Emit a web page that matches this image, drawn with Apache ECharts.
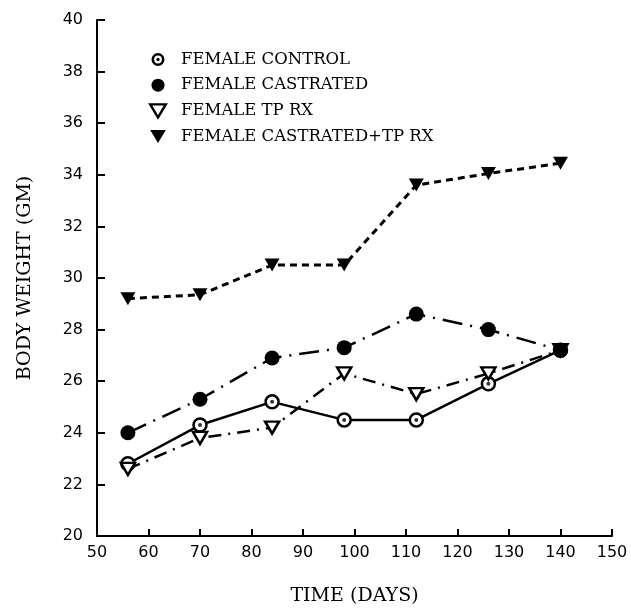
<!DOCTYPE html>
<html>
<head>
<meta charset="utf-8">
<script src="https://cdn.jsdelivr.net/npm/echarts@6/dist/echarts.min.js"></script>
<style>
html,body{margin:0;padding:0;background:#fff;}
#chart{width:631px;height:616px;}
</style>
</head>
<body>
<div id="chart"></div>
<script>
// body weight vs time, female groups
var days=[56,70,84,98,112,126,140];
var names=['FEMALE CONTROL','FEMALE CASTRATED','FEMALE TP RX','FEMALE CASTRATED+TP RX'];
var control=[22.8,24.3,25.2,24.5,24.5,25.9,27.2];
var castrated=[24.0,25.3,26.9,27.3,28.6,28.0,27.2];
var tpRx=[22.6,23.8,24.2,26.3,25.5,26.3,27.2];
var castTpRx=[29.2,29.35,30.5,30.5,33.6,34.05,34.45];

var downTri='path://M0,0 L12,0 L6,10 Z';
var ring='path://M0,-7 A7,7 0 1,1 0,7 A7,7 0 1,1 0,-7 Z M0,-4.2 A4.2,4.2 0 1,0 0,4.2 A4.2,4.2 0 1,0 0,-4.2 Z M0,-1.8 A1.8,1.8 0 1,1 0,1.8 A1.8,1.8 0 1,1 0,-1.8 Z';

function pairs(arr){
	var out=[];
	for(var i=0;i<days.length;i++){
		out.push([days[i],arr[i]]);
	}
	return out;
}

var chart=echarts.init(document.getElementById('chart'));
var axisLbl={color:'#000',fontFamily:'DejaVu Sans',fontSize:16};
var option={
	backgroundColor:'#fff',
	animation:false,
	grid:{left:97,right:19,top:20,bottom:80},
	legend:{
		orient:'vertical',
		left:144,
		top:46,
		itemWidth:36,
		itemHeight:13,
		itemGap:8.7,
		textStyle:{fontFamily:'DejaVu Serif',fontSize:16.5,color:'#000'},
		data:[
			{name:names[0],icon:ring,itemStyle:{color:'#000',borderWidth:0}},
			{name:names[1],icon:'circle',itemStyle:{color:'#000',borderWidth:0}},
			{name:names[2],icon:downTri,itemStyle:{color:'#fff',borderColor:'#000',borderWidth:2.4}},
			{name:names[3],icon:downTri,itemStyle:{color:'#000',borderWidth:0}}
		]
	},
	xAxis:{
		type:'value',min:50,max:150,interval:10,
		name:'TIME (DAYS)',nameLocation:'middle',nameGap:51,
		nameTextStyle:{fontFamily:'DejaVu Serif',fontSize:19,color:'#000'},
		axisLine:{lineStyle:{color:'#000',width:2}},
		axisTick:{inside:true,length:7,lineStyle:{color:'#000',width:2}},
		axisLabel:Object.assign({margin:9},axisLbl),
		splitLine:{show:false}
	},
	yAxis:{
		type:'value',min:20,max:40,interval:2,
		name:'BODY WEIGHT (GM)',nameLocation:'middle',nameGap:62,
		nameTextStyle:{fontFamily:'DejaVu Serif',fontSize:19,color:'#000'},
		axisLine:{show:true,lineStyle:{color:'#000',width:2}},
		axisTick:{show:true,inside:true,length:8,lineStyle:{color:'#000',width:2}},
		axisLabel:Object.assign({margin:14},axisLbl),
		splitLine:{show:false}
	},
	series:[
		{
			name:names[3],type:'line',data:pairs(castTpRx),
			symbol:downTri,symbolSize:[15,13],
			itemStyle:{color:'#000'},
			lineStyle:{color:'#000',width:3,type:[7,5]}
		},
		{
			name:names[0],type:'line',data:pairs(control),
			symbol:'circle',symbolSize:13,
			itemStyle:{color:'#fff',borderColor:'#000',borderWidth:2.5},
			lineStyle:{color:'#000',width:2.5,type:'solid'}
		},
		{
			name:'controlDot',type:'scatter',data:pairs(control),
			symbol:'circle',symbolSize:4,silent:true,z:3,
			itemStyle:{color:'#000'}
		},
		{
			name:names[2],type:'line',data:pairs(tpRx),
			symbol:downTri,symbolSize:[14,12],
			itemStyle:{color:'#fff',borderColor:'#000',borderWidth:2.5},
			lineStyle:{color:'#000',width:2.5,type:[13,7,2,7]}
		},
		{
			name:names[1],type:'line',data:pairs(castrated),z:4,
			symbol:'circle',symbolSize:15,
			itemStyle:{color:'#000'},
			lineStyle:{color:'#000',width:2.5,type:[20,8,2,8]}
		}
	]
};
chart.setOption(option);
</script>
</body>
</html>
